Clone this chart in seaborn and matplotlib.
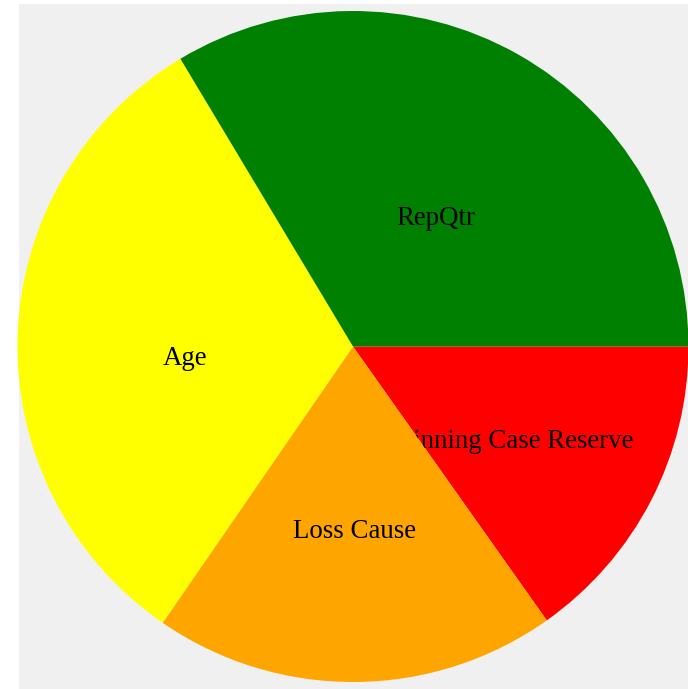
import numpy as np
import matplotlib
matplotlib.use("Agg")
import matplotlib.pyplot as plt
import seaborn as sns

# slice data, in drawing order (clockwise from 3 o'clock)
labels = ["Beginning Case Reserve", "Loss Cause", "Age", "RepQtr"]
values = [15.2, 19.4, 31.8, 33.6]
colors = ["#ff0000", "#ffa500", "#ffff00", "#008000"]

sns.set_theme(style="white")
plt.rcParams['font.family'] = ['Liberation Serif', 'DejaVu Serif']

W, H = 688, 689
fig = plt.figure(figsize=(W / 100, H / 100), dpi=100, facecolor="white")
# grey panel in pixel coordinates (starts at x=19, y=4)
ax = fig.add_axes([19 / W, 0, (W - 19) / W, (H - 4) / H])

cx, cy, r = 353, 346.5, 335.5
wedges, _ = ax.pie(values, colors=colors, startangle=0, counterclock=True,
                   center=(cx, cy), radius=r,
                   wedgeprops=dict(linewidth=0, antialiased=True))

ax.set_xlim(19, W)
ax.set_ylim(H, 4)
ax.set_aspect('auto')
ax.set_frame_on(True)
for s in ax.spines.values():
    s.set_visible(False)
ax.set_facecolor("#f0f0f0")
ax.set_xticks([])
ax.set_yticks([])

# each label sits just under its slice's centroid, later slices cover earlier labels
for i, (w, lab) in enumerate(zip(wedges, labels)):
    w.set_zorder(2 * i + 1)
    mid = np.deg2rad((w.theta1 + w.theta2) / 2)
    tx = cx + r / 2 * np.cos(mid)
    ty = cy + r / 2 * np.sin(mid) + 24
    ax.text(tx, ty, lab, ha="center", va="baseline", fontsize=19.4,
            color="black", zorder=2 * i + 2)

fig.savefig("out.png", dpi=100, facecolor="white")
